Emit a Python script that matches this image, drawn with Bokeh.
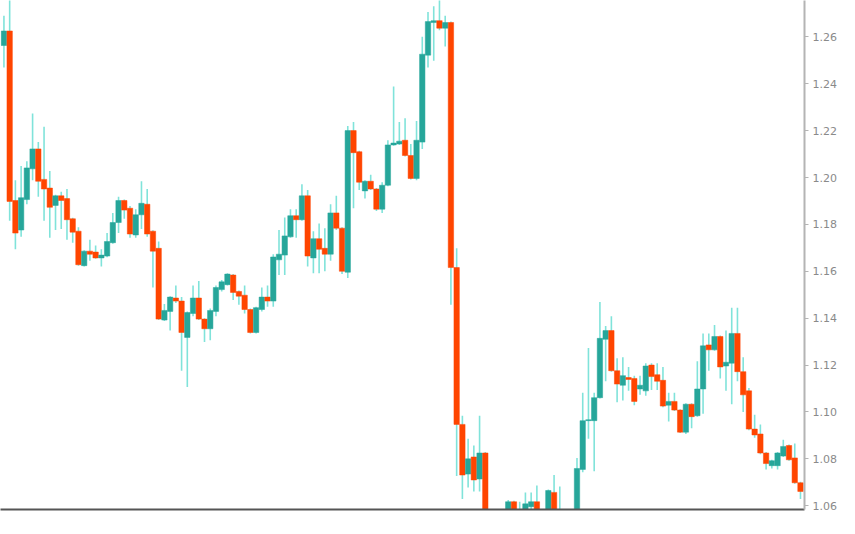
from bokeh.plotting import figure
from bokeh.models import ColumnDataSource, FixedTicker, Range1d, NumeralTickFormatter
from bokeh.embed import file_html
from bokeh.resources import INLINE

opens = [
    1.2563, 1.2625, 1.1902, 1.1776, 1.1906, 1.2037, 1.2122, 1.1992, 1.1955, 1.1881,
    1.1922, 1.1910, 1.1824, 1.1771, 1.1624, 1.1686, 1.1682, 1.1657, 1.1665, 1.1722,
    1.1808, 1.1902, 1.1869, 1.1755, 1.1841, 1.1886, 1.1771, 1.1698, 1.1392, 1.1429,
    1.1486, 1.1473, 1.1318, 1.1420, 1.1486, 1.1396, 1.1355, 1.1429, 1.1522, 1.1543,
    1.1584, 1.1514, 1.1498, 1.1437, 1.1339, 1.1437, 1.1490, 1.1473, 1.1649, 1.1669,
    1.1747, 1.1837, 1.1820, 1.1922, 1.1657, 1.1739, 1.1698, 1.1673, 1.1849, 1.1784,
    1.1596, 1.2200, 1.2110, 1.1943, 1.1984, 1.1951, 1.1865, 1.1967, 1.2139, 1.2143,
    1.2159, 1.2094, 1.1996, 1.2151, 1.2522, 1.2661, 1.2669, 1.2637, 1.2661, 1.1616,
    1.0947, 1.0735, 1.0808, 1.0714, 1.0825, 1.0480, 1.0500, 1.0470, 1.0530, 1.0617,
    1.0540, 1.0584, 1.0596, 1.0617, 1.0540, 1.0555, 1.0657, 1.0560, 1.0550, 1.0545,
    1.0560, 1.0755, 1.0963, 1.0963, 1.1061, 1.1310, 1.1347, 1.1176, 1.1114, 1.1147,
    1.1143, 1.1098, 1.1090, 1.1200, 1.1159, 1.1135, 1.1029, 1.1045, 1.1008, 1.0914,
    1.1033, 1.0984, 1.1098, 1.1286, 1.1265, 1.1322, 1.1196, 1.1208, 1.1335, 1.1172,
    1.1090, 1.0927, 1.0906, 1.0825, 1.0771, 1.0771, 1.0812, 1.0857, 1.0804, 1.0698,
]
highs = [
    1.2690, 1.2775, 1.1988, 1.2049, 1.2069, 1.2273, 1.2151, 1.2216, 1.2028, 1.1926,
    1.1939, 1.1951, 1.1828, 1.1788, 1.1690, 1.1735, 1.1710, 1.1694, 1.1763, 1.1849,
    1.1918, 1.1906, 1.1878, 1.1865, 1.1984, 1.1951, 1.1775, 1.1727, 1.1461, 1.1494,
    1.1539, 1.1490, 1.1428, 1.1539, 1.1559, 1.1400, 1.1441, 1.1539, 1.1563, 1.1592,
    1.1588, 1.1518, 1.1539, 1.1441, 1.1449, 1.1531, 1.1539, 1.1673, 1.1776, 1.1829,
    1.1865, 1.1865, 1.1971, 1.1947, 1.1771, 1.1804, 1.1784, 1.1886, 1.1922, 1.1788,
    1.2220, 1.2237, 1.2114, 1.1988, 1.2012, 1.1955, 1.1980, 1.2159, 1.2388, 1.2237,
    1.2253, 1.2143, 1.2241, 1.2600, 1.2706, 1.2731, 1.2767, 1.2690, 1.2665, 1.1698,
    1.0984, 1.0886, 1.0857, 1.0984, 1.0829, 1.0520, 1.0530, 1.0545, 1.0625, 1.0621,
    1.0617, 1.0657, 1.0657, 1.0686, 1.0570, 1.0669, 1.0731, 1.0682, 1.0575, 1.0578,
    1.0804, 1.1082, 1.1273, 1.1082, 1.1469, 1.1367, 1.1408, 1.1229, 1.1233, 1.1192,
    1.1155, 1.1155, 1.1208, 1.1208, 1.1208, 1.1192, 1.1082, 1.1082, 1.1012, 1.1037,
    1.1037, 1.1216, 1.1335, 1.1335, 1.1371, 1.1326, 1.1347, 1.1445, 1.1445, 1.1233,
    1.1102, 1.0988, 1.0947, 1.0829, 1.0796, 1.0829, 1.0882, 1.0861, 1.0865, 1.0702,
]
lows = [
    1.2469, 1.1816, 1.1694, 1.1747, 1.1886, 1.1988, 1.1918, 1.1816, 1.1743, 1.1776,
    1.1780, 1.1735, 1.1722, 1.1624, 1.1620, 1.1645, 1.1653, 1.1620, 1.1660, 1.1718,
    1.1763, 1.1824, 1.1743, 1.1743, 1.1780, 1.1747, 1.1531, 1.1392, 1.1388, 1.1347,
    1.1465, 1.1176, 1.1106, 1.1408, 1.1392, 1.1298, 1.1306, 1.1408, 1.1514, 1.1539,
    1.1478, 1.1457, 1.1420, 1.1335, 1.1335, 1.1429, 1.1449, 1.1449, 1.1584, 1.1584,
    1.1743, 1.1743, 1.1816, 1.1620, 1.1592, 1.1592, 1.1600, 1.1645, 1.1776, 1.1588,
    1.1571, 1.1869, 1.1947, 1.1910, 1.1947, 1.1857, 1.1849, 1.1963, 1.2135, 1.2139,
    1.2090, 1.1992, 1.1988, 1.2122, 1.2469, 1.2498, 1.2628, 1.2559, 1.1457, 1.0727,
    1.0629, 1.0678, 1.0661, 1.0661, 1.0429, 1.0455, 1.0440, 1.0450, 1.0520, 1.0520,
    1.0515, 1.0550, 1.0560, 1.0520, 1.0500, 1.0540, 1.0540, 1.0520, 1.0510, 1.0520,
    1.0540, 1.0743, 1.0886, 1.0747, 1.1057, 1.1131, 1.1172, 1.1041, 1.1049, 1.1090,
    1.1029, 1.1073, 1.1069, 1.1094, 1.1094, 1.1020, 1.0959, 1.1004, 1.0910, 1.0906,
    1.0931, 1.0980, 1.0992, 1.1176, 1.1261, 1.1143, 1.1090, 1.1033, 1.1131, 1.1000,
    1.0922, 1.0890, 1.0820, 1.0755, 1.0759, 1.0755, 1.0808, 1.0792, 1.0694, 1.0629,
]
closes = [
    1.2625, 1.1898, 1.1763, 1.1914, 1.2041, 1.2122, 1.1984, 1.1951, 1.1873, 1.1922,
    1.1902, 1.1820, 1.1767, 1.1628, 1.1686, 1.1673, 1.1657, 1.1669, 1.1727, 1.1808,
    1.1902, 1.1861, 1.1759, 1.1841, 1.1890, 1.1759, 1.1686, 1.1396, 1.1433, 1.1490,
    1.1473, 1.1339, 1.1424, 1.1486, 1.1396, 1.1355, 1.1433, 1.1531, 1.1555, 1.1588,
    1.1510, 1.1494, 1.1437, 1.1339, 1.1445, 1.1490, 1.1473, 1.1661, 1.1673, 1.1751,
    1.1837, 1.1820, 1.1922, 1.1665, 1.1739, 1.1694, 1.1673, 1.1849, 1.1784, 1.1600,
    1.2200, 1.2106, 1.1980, 1.1984, 1.1951, 1.1865, 1.1967, 1.2139, 1.2147, 1.2155,
    1.2094, 1.1996, 1.2159, 1.2526, 1.2665, 1.2669, 1.2637, 1.2661, 1.1616, 1.0947,
    1.0731, 1.0800, 1.0710, 1.0825, 1.0469, 1.0500, 1.0470, 1.0530, 1.0617, 1.0540,
    1.0560, 1.0608, 1.0617, 1.0540, 1.0555, 1.0665, 1.0560, 1.0550, 1.0545, 1.0560,
    1.0759, 1.0963, 1.0967, 1.1061, 1.1314, 1.1347, 1.1176, 1.1119, 1.1155, 1.1139,
    1.1045, 1.1114, 1.1196, 1.1151, 1.1131, 1.1025, 1.1045, 1.1008, 1.0914, 1.1033,
    1.0980, 1.1098, 1.1282, 1.1265, 1.1322, 1.1192, 1.1212, 1.1335, 1.1172, 1.1073,
    1.0927, 1.0902, 1.0825, 1.0780, 1.0792, 1.0825, 1.0853, 1.0796, 1.0698, 1.0661,
]
price_ticks = [1.06, 1.08, 1.10, 1.12, 1.14, 1.16, 1.18, 1.20, 1.22, 1.24, 1.26]

UP_COLOR = "#26a69a"
DOWN_COLOR = "#ff4500"
WICK_COLOR = "#80e3da"

idx = list(range(len(opens)))
tops = [max(o, c) for o, c in zip(opens, closes)]
bottoms = [min(o, c) for o, c in zip(opens, closes)]
colors = [UP_COLOR if c >= o else DOWN_COLOR for o, c in zip(opens, closes)]

src = ColumnDataSource(dict(x=idx, o=opens, h=highs, l=lows, c=closes,
                            top=tops, bottom=bottoms, color=colors))

p = figure(width=839, height=518, output_backend="svg", toolbar_location=None,
           x_range=Range1d(-0.60, 139.70), y_range=Range1d(1.0584, 1.2755),
           y_axis_location="right", x_axis_location="below",
           min_border_left=0, min_border_top=0, min_border_bottom=9, min_border_right=0)

p.segment(x0="x", y0="h", x1="x", y1="l", source=src, line_color=WICK_COLOR, line_width=1.6)
p.vbar(x="x", width=0.94, top="top", bottom="bottom", source=src,
       fill_color="color", line_color="color", line_width=0.5)

p.xgrid.visible = False
p.ygrid.visible = False
p.outline_line_color = None
p.background_fill_color = "white"
p.border_fill_color = "white"

ya = p.yaxis[0]
ya.ticker = FixedTicker(ticks=price_ticks)
ya.formatter = NumeralTickFormatter(format="0.00")
ya.axis_line_color = "#b4b4b4"
ya.axis_line_width = 2
ya.major_tick_line_color = "#b4b4b4"
ya.major_tick_out = 4
ya.major_tick_in = 0
ya.minor_tick_line_color = None
ya.major_label_text_color = "#8a8a8a"
ya.major_label_text_font = "DejaVu Sans"
ya.major_label_text_font_size = "11px"
ya.major_label_standoff = 4

xa = p.xaxis[0]
xa.ticker = FixedTicker(ticks=[])
xa.axis_line_color = "#555555"
xa.axis_line_width = 2
xa.major_tick_line_color = None
xa.minor_tick_line_color = None
xa.major_label_standoff = 0

open("out.html", "w").write(file_html(p, INLINE))
